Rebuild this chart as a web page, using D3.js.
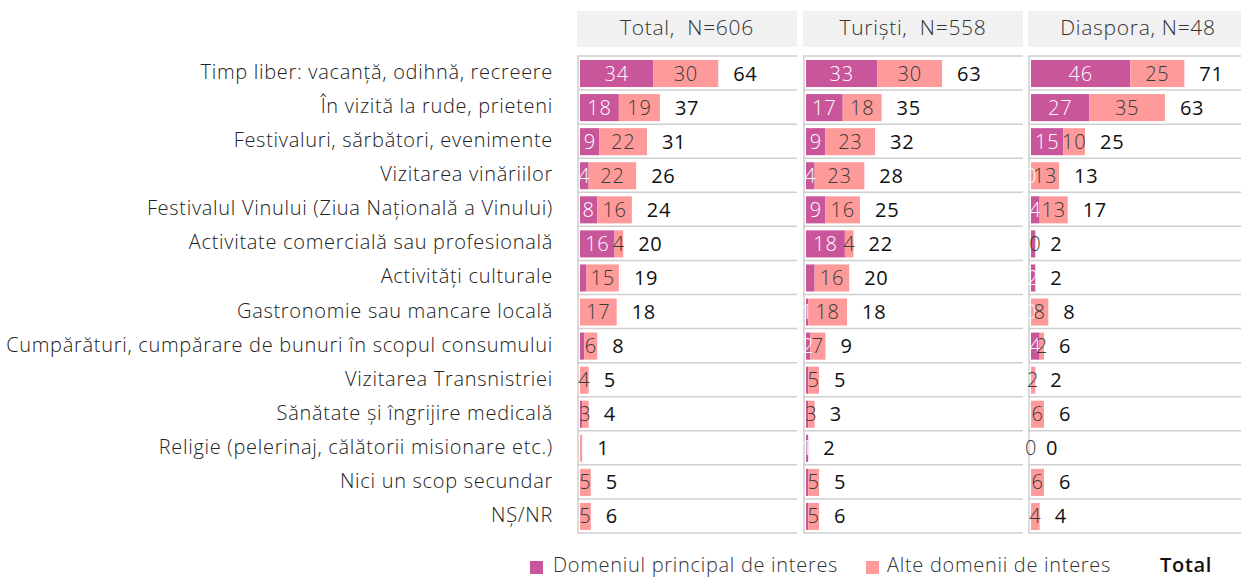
<!DOCTYPE html>
<html>
<head>
<meta charset="utf-8">
<script src="https://cdn.jsdelivr.net/npm/d3@7"></script>
<style>
  body { margin: 0; background: #fff; }
  text { font-family: "Open Sans", "Noto Sans", sans-serif; font-weight: 300; letter-spacing: 0.7px; }
</style>
</head>
<body>
<script>
var categories = [
  'Timp liber: vacanță, odihnă, recreere',
  'În vizită la rude, prieteni',
  'Festivaluri, sărbători, evenimente',
  'Vizitarea vinăriilor',
  'Festivalul Vinului (Ziua Națională a Vinului)',
  'Activitate comercială sau profesională',
  'Activități culturale',
  'Gastronomie sau mancare locală',
  'Cumpărături, cumpărare de bunuri în scopul consumului',
  'Vizitarea Transnistriei',
  'Sănătate și îngrijire medicală',
  'Religie (pelerinaj, călătorii misionare etc.)',
  'Nici un scop secundar',
  'NȘ/NR'
];

var panelTitles = ['Total,  N=606', 'Turiști,  N=558', 'Diaspora, N=48'];

var totalMain = [34, 18, 9, 4, 8, 16, 3, 0, 2, 0, 1, 0, 0, 0];
var totalOther = [30, 19, 22, 22, 16, 4, 15, 17, 6, 4, 3, 1, 5, 5];
var totalTotal = [64, 37, 31, 26, 24, 20, 19, 18, 8, 5, 4, 1, 5, 6];

var turistiMain = [33, 17, 9, 4, 9, 18, 4, 1, 2, 1, 1, 1, 1, 1];
var turistiOther = [30, 18, 23, 23, 16, 4, 16, 18, 7, 5, 3, 0, 5, 5];
var turistiTotal = [63, 35, 32, 28, 25, 22, 20, 18, 9, 5, 3, 2, 5, 6];

var diasporaMain = [46, 27, 15, 0, 4, 2, 2, 0, 4, 0, 0, 0, 0, 0];
var diasporaOther = [25, 35, 10, 13, 13, 0, 0, 8, 2, 2, 6, 0, 6, 4];
var diasporaTotal = [71, 63, 25, 13, 17, 2, 2, 8, 6, 2, 6, 0, 6, 4];

// rows whose segment label is not shown in the original
var hideMain = [[6, 7, 8, 9, 10, 11, 12, 13], [6, 9, 10, 12, 13], [5, 9, 10, 11, 12, 13]];
var hideOther = [[11], [11], [6]];

var legendLabels = ['Domeniul principal de interes', 'Alte domenii de interes', 'Total'];

var panels = [
  { main: totalMain, other: totalOther, total: totalTotal },
  { main: turistiMain, other: turistiOther, total: turistiTotal },
  { main: diasporaMain, other: diasporaOther, total: diasporaTotal }
];

var colMain = '#c9559a';
var colOther = '#fe9a9a';
var gridColor = '#cfcfcf';

var svg = d3.select('body').append('svg').attr('width', 1241).attr('height', 578);

var panelX = [577, 803, 1028];
var panelW = 220;

var y = d3.scaleBand().domain(categories).range([56, 533]).padding(0);
var x = d3.scaleLinear().domain([0, 100]).range([0, 216]);

// category labels
svg
  .append('g')
  .selectAll('text')
  .data(categories)
  .enter()
  .append('text')
  .attr('x', 553)
  .attr('y', function (d) {
    return y(d) + 16;
  })
  .attr('dy', '0.35em')
  .attr('text-anchor', 'end')
  .attr('font-size', 20)
  .attr('fill', '#222')
  .text(function (d) {
    return d;
  });

panels.forEach(function (p, k) {
  var g = svg.append('g').attr('transform', `translate(${panelX[k]},0)`);

  // header
  g.append('rect').attr('x', 0).attr('y', 11).attr('width', panelW).attr('height', 36).attr('fill', '#f1f1f1');
  g.append('text')
    .attr('x', panelW / 2)
    .attr('y', 28)
    .attr('dy', '0.35em')
    .attr('text-anchor', 'middle')
    .attr('font-size', 21)
    .attr('fill', '#333')
    .style('white-space', 'pre')
    .text(panelTitles[k]);

  // grid lines
  var lines = y.domain().map(function (c) {
    return y(c);
  });
  lines.push(y.range()[1]);
  g.selectAll('.grid')
    .data(lines)
    .enter()
    .append('line')
    .attr('x1', 0)
    .attr('x2', panelW)
    .attr('y1', function (d) {
      return d;
    })
    .attr('y2', function (d) {
      return d;
    })
    .attr('stroke', gridColor)
    .attr('stroke-width', 1.5);
  g.append('line')
    .attr('x1', 1)
    .attr('x2', 1)
    .attr('y1', y.range()[0])
    .attr('y2', y.range()[1])
    .attr('stroke', gridColor)
    .attr('stroke-width', 1.5);

  var rows = categories.map(function (c, i) {
    return { cat: c, i: i, main: p.main[i], other: p.other[i], total: p.total[i] };
  });

  var row = g
    .selectAll('.row')
    .data(rows)
    .enter()
    .append('g')
    .attr('transform', function (d) {
      return `translate(3,${y(d.cat) + 4})`;
    });

  var bh = y.bandwidth() - 7;

  row.append('rect')
    .attr('x', 0)
    .attr('width', function (d) {
      return x(d.main);
    })
    .attr('height', bh)
    .attr('fill', colMain);

  row.append('rect')
    .attr('x', function (d) {
      return x(d.main);
    })
    .attr('width', function (d) {
      return x(d.other);
    })
    .attr('height', bh)
    .attr('fill', colOther);

  row.filter(function (d) {
      return hideMain[k].indexOf(d.i) < 0;
    })
    .append('text')
    .attr('x', function (d) {
      return x(d.main) / 2;
    })
    .attr('y', bh / 2)
    .attr('dy', '0.35em')
    .attr('text-anchor', 'middle')
    .attr('font-size', 20)
    .attr('fill', '#fff')
    .text(function (d) {
      return d.main;
    });

  row.filter(function (d) {
      return hideOther[k].indexOf(d.i) < 0;
    })
    .append('text')
    .attr('x', function (d) {
      return x(d.main) + x(d.other) / 2;
    })
    .attr('y', bh / 2)
    .attr('dy', '0.35em')
    .attr('text-anchor', 'middle')
    .attr('font-size', 20)
    .attr('fill', '#3a3a3a')
    .text(function (d) {
      return d.other;
    });

  row.append('text')
    .attr('x', function (d) {
      return x(d.main + d.other) + 15;
    })
    .attr('y', bh / 2)
    .attr('dy', '0.35em')
    .attr('font-size', 20)
    .style('font-weight', 400)
    .attr('fill', '#111')
    .text(function (d) {
      return d.total;
    });
});

// legend
var legend = svg.append('g');
legend.append('rect').attr('x', 530).attr('y', 561).attr('width', 13).attr('height', 13).attr('fill', colMain);
legend.append('text').attr('x', 553).attr('y', 565).attr('dy', '0.35em').attr('font-size', 20).attr('fill', '#333').text(legendLabels[0]);
legend.append('rect').attr('x', 866).attr('y', 561).attr('width', 13).attr('height', 13).attr('fill', colOther);
legend.append('text').attr('x', 887).attr('y', 565).attr('dy', '0.35em').attr('font-size', 20).attr('fill', '#333').text(legendLabels[1]);
legend.append('text').attr('x', 1160).attr('y', 565).attr('dy', '0.35em').attr('font-size', 20).style('font-weight', 600).attr('fill', '#111').text(legendLabels[2]);
</script>
</body>
</html>
